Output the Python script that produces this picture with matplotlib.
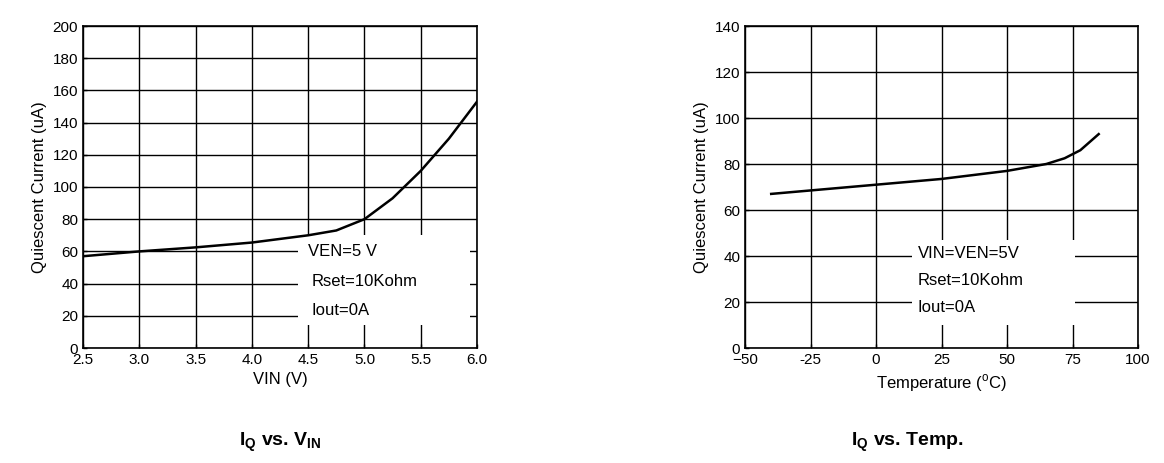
import matplotlib
matplotlib.use("Agg")
import matplotlib.pyplot as plt
from matplotlib.patches import Rectangle

plt.rcParams['font.family'] = ['Liberation Sans', 'DejaVu Sans']
plt.rcParams['mathtext.fontset'] = 'custom'
plt.rcParams['mathtext.rm'] = 'Liberation Sans'
plt.rcParams['mathtext.bf'] = 'Liberation Sans:bold'

vin = [2.5, 3.0, 3.5, 4.0, 4.5, 4.75, 5.0, 5.25, 5.5, 5.75, 6.0]
iq_vin = [57, 60, 62.5, 65.5, 70, 73, 80, 93, 110, 130, 153]
temp = [-40, -25, 0, 25, 50, 65, 72, 78, 82, 85]
iq_temp = [67, 68.5, 71, 73.5, 77, 80, 82.5, 86, 90, 93]

fig = plt.figure(figsize=(11.64, 4.63), dpi=100)
ax1 = fig.add_axes([83/1164, 1-348/463, 394/1164, 322/463])
ax2 = fig.add_axes([745/1164, 1-348/463, 393/1164, 322/463])

def style(ax):
    ax.grid(True, color='black', linewidth=1)
    ax.tick_params(direction='in', length=3, labelsize=11, width=1)
    for s in ax.spines.values():
        s.set_linewidth(1.2)
    ax.set_axisbelow(True)

ax1.plot(vin, iq_vin, color='black', lw=1.8, zorder=4)
ax1.set_xlim(2.5, 6.0); ax1.set_ylim(0, 200)
ax1.set_xticks([2.5, 3.0, 3.5, 4.0, 4.5, 5.0, 5.5, 6.0])
ax1.set_xticklabels(['2.5', '3.0', '3.5', '4.0', '4.5', '5.0', '5.5', '6.0'])
ax1.set_yticks(range(0, 201, 20))
ax1.set_xlabel('VIN (V)', fontsize=12)
ax1.set_ylabel('Quiescent Current (uA)', fontsize=12)
style(ax1)
ax1.add_patch(Rectangle((0.5457, 0.0714), 0.4365, 0.28, transform=ax1.transAxes,
                        facecolor='white', edgecolor='none', zorder=3))
ax1.text(0.57, 0.30, 'VEN=5 V', transform=ax1.transAxes, fontsize=12, va='center', zorder=5)
ax1.text(0.58, 0.205, 'Rset=10Kohm', transform=ax1.transAxes, fontsize=12, va='center', zorder=5)
ax1.text(0.58, 0.115, 'Iout=0A', transform=ax1.transAxes, fontsize=12, va='center', zorder=5)

ax2.plot(temp, iq_temp, color='black', lw=1.8, zorder=4)
ax2.set_xlim(-50, 100); ax2.set_ylim(0, 140)
ax2.set_xticks([-50, -25, 0, 25, 50, 75, 100])
ax2.set_xticklabels(['\u221250', '-25', '0', '25', '50', '75', '100'])
ax2.set_yticks(range(0, 141, 20))
ax2.set_xlabel('Temperature ($^{\\mathrm{o}}$C)', fontsize=12)
ax2.set_ylabel('Quiescent Current (uA)', fontsize=12)
style(ax2)
ax2.add_patch(Rectangle((0.425, 0.07), 0.415, 0.265, transform=ax2.transAxes,
                        facecolor='white', edgecolor='none', zorder=3))
ax2.text(0.44, 0.295, 'VIN=VEN=5V', transform=ax2.transAxes, fontsize=12, va='center', zorder=5)
ax2.text(0.44, 0.21, 'Rset=10Kohm', transform=ax2.transAxes, fontsize=12, va='center', zorder=5)
ax2.text(0.44, 0.125, 'Iout=0A', transform=ax2.transAxes, fontsize=12, va='center', zorder=5)

fig.text(280/1164, 1-442/463, r'$\mathbf{I_Q}$ vs. $\mathbf{V_{IN}}$', fontsize=14,
         fontweight='bold', ha='center', va='center')
fig.text(907/1164, 1-442/463, r'$\mathbf{I_Q}$ vs. Temp.', fontsize=14,
         fontweight='bold', ha='center', va='center')

fig.savefig('out.png', dpi=100)
